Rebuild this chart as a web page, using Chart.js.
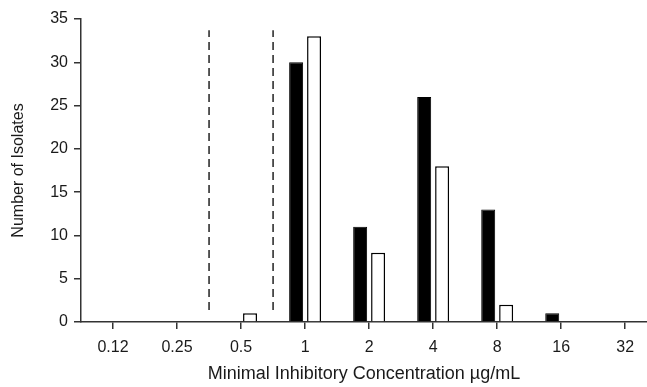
<!DOCTYPE html>
<html>
<head>
<meta charset="utf-8">
<script src="https://cdn.jsdelivr.net/npm/chart.js@4.4.1/dist/chart.umd.min.js"></script>
<style>
html,body{margin:0;padding:0;background:#fff;overflow:hidden}
#wrap{width:647px;height:387px;position:relative}
</style>
</head>
<body>
<div id="wrap"><canvas id="micChart"></canvas></div>
<script>
// MIC categories (µg/mL) and isolate counts per group
const micLabels = ["0.12", "0.25", "0.5", "1", "2", "4", "8", "16", "32"];
const blackCounts = [0, 0, 0, 30, 11, 26, 13, 1, 0];
const whiteCounts = [0, 0, 1, 33, 8, 18, 2, 0, 0];

// dashed breakpoint lines sit between categories
const breakpointPositions = [1.5, 2.5];
const breakpointSpan = [1.4, 33.7];

const textColor = "#1a1a1a";
const fontFamily = "'Liberation Sans', Arial, sans-serif";

const toPoints = arr => arr.map((v, i) => ({x: i, y: v}));

const datasets = [
    {
        type: "bar",
        label: "black",
        data: toPoints(blackCounts),
        backgroundColor: "#000",
        borderColor: "#000",
        borderWidth: 1,
        categoryPercentage: 0.56,
        barPercentage: 0.78
    },
    {
        type: "bar",
        label: "white",
        data: toPoints(whiteCounts),
        backgroundColor: "#fff",
        borderColor: "#000",
        borderWidth: 1.5,
        categoryPercentage: 0.56,
        barPercentage: 0.78
    }
];

breakpointPositions.forEach(pos => {
    datasets.push({
        type: "line",
        label: "bp" + pos,
        data: [{x: pos, y: breakpointSpan[0]}, {x: pos, y: breakpointSpan[1]}],
        borderColor: "#222",
        borderWidth: 1.5,
        borderDash: [8, 5],
        pointRadius: 0,
        fill: false
    });
});

new Chart(document.getElementById("micChart"), {
    data: {datasets: datasets},
    options: {
        responsive: true,
        maintainAspectRatio: false,
        animation: false,
        layout: {padding: {top: 19, right: 0, left: 0, bottom: 0}},
        plugins: {
            legend: {display: false},
            tooltip: {enabled: false}
        },
        scales: {
            x: {
                type: "linear",
                min: -0.5,
                max: 8.34,
                offset: false,
                // one tick per MIC category
                afterBuildTicks: scale => {
                    scale.ticks = micLabels.map((_, i) => ({value: i}));
                },
                afterFit: scale => { scale.height = 65; },
                ticks: {
                    stepSize: 1,
                    color: textColor,
                    padding: 9,
                    maxRotation: 0,
                    autoSkip: false,
                    font: {family: fontFamily, size: 16},
                    callback: v => micLabels[v] ?? ""
                },
                grid: {
                    offset: false,
                    drawOnChartArea: false,
                    drawTicks: true,
                    tickLength: 7,
                    color: "#333",
                    lineWidth: 1.5
                },
                border: {color: "#333", width: 1.5},
                title: {
                    display: true,
                    text: "Minimal Inhibitory Concentration µg/mL",
                    color: textColor,
                    font: {family: fontFamily, size: 18},
                    padding: {top: 4, bottom: 2}
                }
            },
            y: {
                min: 0,
                max: 35,
                afterFit: scale => { scale.width = 81; },
                ticks: {
                    stepSize: 5,
                    color: textColor,
                    padding: 6,
                    font: {family: fontFamily, size: 16}
                },
                grid: {
                    drawOnChartArea: false,
                    drawTicks: true,
                    tickLength: 7,
                    color: "#333",
                    lineWidth: 1.5
                },
                border: {color: "#333", width: 1.5},
                title: {
                    display: true,
                    text: "Number of Isolates",
                    color: textColor,
                    font: {family: fontFamily, size: 16},
                    padding: {top: 9, bottom: 4}
                }
            }
        }
    }
});
</script>
</body>
</html>
